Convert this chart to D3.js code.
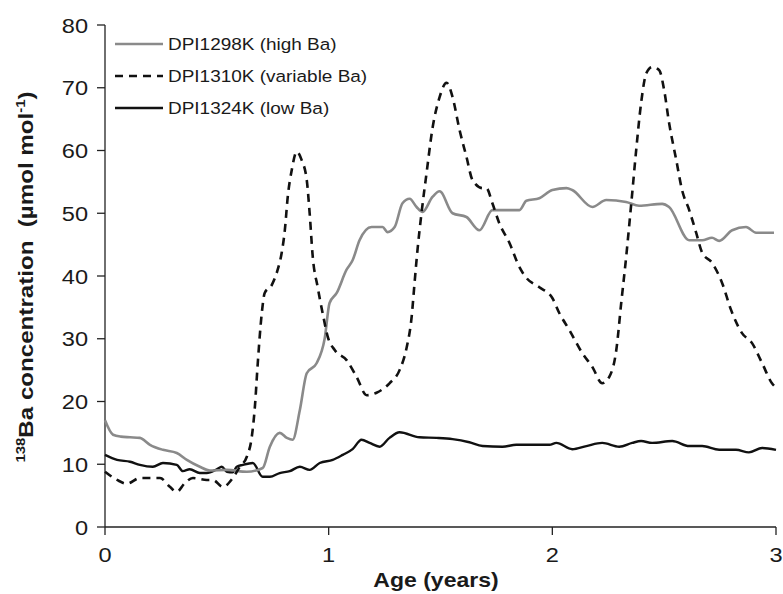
<!DOCTYPE html>
<html>
<head>
<meta charset="utf-8">
<script src="https://cdn.jsdelivr.net/npm/d3@7/dist/d3.min.js"></script>
<style>
  html, body { margin: 0; padding: 0; background: #fff; }
  svg { display: block; font-family: Arial, "Liberation Sans", sans-serif; }
  text { white-space: pre; }
</style>
</head>
<body>
<svg id="chart" width="783" height="594"></svg>
<script>
// ---- data ----
const seriesNames = ["DPI1298K (high Ba)", "DPI1310K (variable Ba)", "DPI1324K (low Ba)"];
const xTicks = [0, 1, 2, 3];
const yTicks = [0, 10, 20, 30, 40, 50, 60, 70, 80];

const highAge = [0.000,0.036,0.071,0.112,0.156,0.201,0.259,0.321,0.366,0.424,0.469,0.545,0.634,0.705,0.737,0.781,0.813,0.839,0.871,0.902,0.946,0.982,1.004,1.036,1.080,1.107,1.138,1.192,1.241,1.263,1.295,1.330,1.362,1.393,1.420,1.464,1.496,1.554,1.616,1.674,1.732,1.795,1.853,1.884,1.942,2.000,2.063,2.089,2.179,2.241,2.330,2.388,2.491,2.522,2.612,2.670,2.714,2.746,2.804,2.866,2.911,2.991];
const highBa  = [17.0,14.7,14.4,14.3,14.2,13.1,12.3,11.8,10.7,9.6,9.0,9.1,8.8,9.4,12.8,15.0,14.2,13.9,18.6,24.5,26.1,30.0,35.7,37.3,41.0,42.5,45.7,47.8,47.8,47.0,47.8,51.6,52.3,51.0,50.2,52.6,53.5,50.0,49.4,47.3,50.5,50.5,50.5,52.0,52.4,53.7,54.0,53.7,51.0,52.1,51.8,51.2,51.5,51.0,45.7,45.7,46.1,45.6,47.3,47.8,46.9,46.9];

const varAge = [0.000,0.054,0.098,0.156,0.246,0.290,0.321,0.357,0.393,0.455,0.482,0.527,0.571,0.603,0.634,0.656,0.670,0.683,0.701,0.714,0.746,0.772,0.790,0.804,0.817,0.835,0.857,0.879,0.902,0.915,0.929,0.951,0.973,0.996,1.027,1.080,1.125,1.170,1.214,1.272,1.317,1.348,1.371,1.384,1.397,1.415,1.438,1.464,1.496,1.527,1.554,1.585,1.616,1.643,1.688,1.705,1.732,1.763,1.808,1.853,1.884,1.942,2.000,2.031,2.076,2.134,2.179,2.223,2.254,2.286,2.308,2.330,2.353,2.375,2.397,2.420,2.446,2.478,2.500,2.522,2.554,2.580,2.612,2.643,2.670,2.714,2.759,2.799,2.848,2.893,2.938,2.982,3.000];
const varBa  = [8.8,7.5,6.9,7.8,7.8,6.4,5.6,7.0,7.8,7.5,7.5,6.4,7.8,9.6,11.2,14.3,19.1,26.1,34.1,37.3,38.6,41.0,43.7,47.3,52.6,56.9,59.8,58.5,55.3,50.0,43.0,38.2,34.1,30.3,28.2,26.6,23.9,21.0,21.4,22.9,25.0,28.5,33.5,38.9,44.1,50.0,56.5,63.5,68.5,70.8,68.5,63.3,59.0,55.3,54.0,54.0,51.6,48.4,45.3,41.4,39.7,38.2,36.5,34.1,31.4,27.7,25.5,22.9,23.9,28.2,35.7,43.0,51.6,60.1,67.6,72.3,73.3,72.8,69.6,64.4,58.5,53.7,50.5,46.9,43.7,42.1,38.9,34.6,30.9,29.3,26.1,22.9,22.2];

const lowAge = [0.000,0.054,0.112,0.156,0.214,0.259,0.321,0.348,0.379,0.424,0.455,0.500,0.522,0.545,0.571,0.589,0.616,0.661,0.705,0.737,0.781,0.826,0.871,0.915,0.960,1.018,1.063,1.107,1.147,1.183,1.228,1.272,1.317,1.406,1.482,1.554,1.629,1.688,1.777,1.839,1.987,2.018,2.089,2.152,2.223,2.299,2.357,2.397,2.446,2.536,2.612,2.670,2.746,2.821,2.879,2.938,3.000];
const lowBa  = [11.5,10.7,10.4,9.9,9.6,10.2,9.9,8.9,9.2,8.6,8.6,9.2,9.6,8.8,8.7,9.6,9.9,10.2,8.0,8.0,8.6,8.9,9.6,9.1,10.2,10.7,11.5,12.4,13.9,13.4,12.8,14.2,15.1,14.3,14.2,14.0,13.5,12.9,12.8,13.1,13.1,13.4,12.4,12.9,13.4,12.8,13.4,13.7,13.4,13.7,12.9,12.9,12.3,12.3,11.9,12.6,12.3];

// ---- layout ----
const svg = d3.select("#chart");
const mLeft = 105, mRight = 776, mTop = 25, mBottom = 527;
const STRETCH = 1.15;
const textColor = "#1a1a1a";

const x = d3.scaleLinear().domain([0, 3]).range([mLeft, mRight]);
const y = d3.scaleLinear().domain([0, 80]).range([mBottom, mTop]);

function label(g, tx, ty, str, opts) {
  const t = g.append("text")
    .attr("transform", `translate(${tx},${ty}) ${opts.rotate ? "rotate(-90) " : ""}scale(${STRETCH},1)`)
    .attr("text-anchor", opts.anchor || "start")
    .attr("font-size", opts.size)
    .attr("font-weight", opts.bold ? "bold" : "normal")
    .attr("fill", textColor);
  if (str !== null) t.text(str);
  return t;
}

// axes
const axisColor = "#222";
const yAxis = svg.append("g");
yAxis.append("line").attr("x1", mLeft).attr("x2", mLeft).attr("y1", y(80)).attr("y2", y(0))
  .attr("stroke", axisColor).attr("stroke-width", 1.3);
yTicks.forEach(v => {
  yAxis.append("line").attr("x1", mLeft - 8).attr("x2", mLeft).attr("y1", y(v)).attr("y2", y(v))
    .attr("stroke", axisColor).attr("stroke-width", 1.3);
  label(yAxis, mLeft - 17, y(v) + 7.5, String(v), {anchor: "end", size: 20.5});
});

const xAxis = svg.append("g");
xAxis.append("line").attr("x1", x(0)).attr("x2", x(3)).attr("y1", mBottom).attr("y2", mBottom)
  .attr("stroke", axisColor).attr("stroke-width", 1.3);
xTicks.forEach(v => {
  xAxis.append("line").attr("x1", x(v)).attr("x2", x(v)).attr("y1", mBottom).attr("y2", mBottom + 8)
    .attr("stroke", axisColor).attr("stroke-width", 1.3);
  label(xAxis, x(v), 562, String(v), {anchor: "middle", size: 20.5});
});

// axis titles
label(svg, 436, 587, "Age (years)", {anchor: "middle", size: 20, bold: true});
const yt = label(svg, 33, 277, null, {anchor: "middle", size: 21, bold: true, rotate: true});
yt.append("tspan").attr("font-size", 13).attr("dy", -8).text("138");
yt.append("tspan").attr("dy", 8).text("Ba concentration  (µmol mol");
yt.append("tspan").attr("font-size", 13).attr("dy", -8).text("-1");
yt.append("tspan").attr("dy", 8).text(")");

// series
const styles = [
  {color: "#8a8a8a", width: 2.6, dash: null},
  {color: "#111", width: 2.6, dash: "8,6"},
  {color: "#111", width: 2.4, dash: null}
];
const seriesData = [
  highAge.map((a, i) => [a, highBa[i]]),
  varAge.map((a, i) => [a, varBa[i]]),
  lowAge.map((a, i) => [a, lowBa[i]])
];
const line = d3.line().x(d => x(d[0])).y(d => y(d[1])).curve(d3.curveMonotoneX);

const plot = svg.append("g");
[2, 0, 1].forEach(i => {
  plot.append("path")
    .datum(seriesData[i])
    .attr("d", line)
    .attr("fill", "none")
    .attr("stroke", styles[i].color)
    .attr("stroke-width", styles[i].width)
    .attr("stroke-linejoin", "round")
    .attr("stroke-dasharray", styles[i].dash);
});

// legend
const legend = svg.append("g");
const legY = [44, 76, 108];
seriesNames.forEach((name, i) => {
  legend.append("line").attr("x1", 115).attr("x2", 163).attr("y1", legY[i]).attr("y2", legY[i])
    .attr("stroke", styles[i].color).attr("stroke-width", styles[i].width)
    .attr("stroke-dasharray", styles[i].dash);
  label(legend, 168, legY[i] + 6, name, {size: 16.5});
});
</script>
</body>
</html>
